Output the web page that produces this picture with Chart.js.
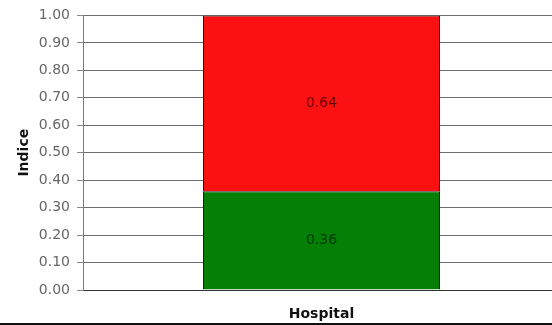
<!DOCTYPE html>
<html>
<head>
<meta charset="utf-8">
<script src="https://cdn.jsdelivr.net/npm/chart.js@4/dist/chart.umd.min.js"></script>
<style>
html,body{margin:0;padding:0;background:#fff;overflow:hidden;width:552px;height:325px}
#wrap{position:relative;width:552px;height:325px;overflow:hidden}
#c{position:absolute;left:0;top:0}
#foot{position:absolute;left:0;top:323px;width:552px;height:2px;background:#111}
</style>
</head>
<body>
<div id="wrap"><canvas id="c" width="560" height="323"></canvas><div id="foot"></div></div>
<script>
const categories=["Hospital"];
const lowValues=[0.36];
const highValues=[0.64];
const yTicks=[0,0.1,0.2,0.3,0.4,0.5,0.6,0.7,0.8,0.9,1];
const FONT="'DejaVu Sans', Arial, sans-serif";

// valeurs au centre de chaque segment
const centerLabels={id:"centerLabels",afterDatasetsDraw(chart){
  const ctx=chart.ctx; ctx.save();
  ctx.font="14px "+FONT; ctx.textAlign="center"; ctx.textBaseline="middle";
  chart.data.datasets.forEach((ds,i)=>{
    chart.getDatasetMeta(i).data.forEach((bar,j)=>{
      const {x,y,base}=bar.getProps(["x","y","base"],true);
      ctx.fillStyle=ds.labelColor;
      ctx.fillText(ds.data[j].toFixed(2),x,(y+base)/2);
    });
  });
  ctx.restore();
}};

new Chart(document.getElementById("c"),{
  type:"bar",
  data:{labels:categories,datasets:[
    {data:lowValues,backgroundColor:"#067f06",borderColor:"#111",borderWidth:1,labelColor:"rgba(0,40,0,0.8)"},
    {data:highValues,backgroundColor:"#fb1111",borderColor:"#111",borderWidth:1,labelColor:"rgba(90,0,0,0.9)"}
  ]},
  options:{
    responsive:false,animation:false,
    layout:{padding:{top:15,left:0,right:0,bottom:0}},
    plugins:{legend:{display:false},tooltip:{enabled:false}},
    datasets:{bar:{categoryPercentage:1,barPercentage:0.497}},
    scales:{
      x:{stacked:true,grid:{display:false,drawTicks:false},border:{display:false},ticks:{display:false},
        afterFit:(s)=>{s.height=33;},
        title:{display:true,text:"Hospital",color:"#111",font:{family:FONT,size:14,weight:"bold"},padding:{top:16,bottom:0}}},
      y:{stacked:true,min:0,max:1,
        afterBuildTicks:(s)=>{s.ticks=yTicks.map(v=>({value:v}));},
        afterFit:(s)=>{s.width=83;},
        ticks:{color:"#666",padding:7,font:{family:FONT,size:14},callback:(v)=>Number(v).toFixed(2)},
        grid:{color:(c)=>c.tick&&c.tick.value===0?"#333":"#6e6e6e",tickLength:6,tickColor:"#888"},
        border:{color:"#777"},
        title:{display:true,text:"Indice",color:"#111",font:{family:FONT,size:14,weight:"bold"},padding:{top:16,bottom:0}}}
    }
  },
  plugins:[centerLabels]
});
</script>
</body>
</html>
